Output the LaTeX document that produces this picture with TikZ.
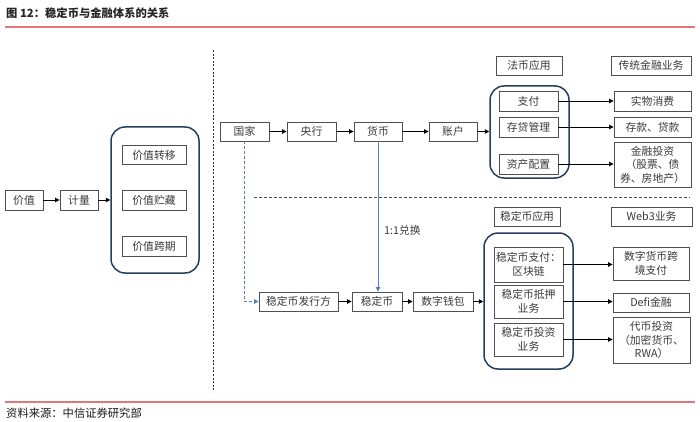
\documentclass[tikz,border=0pt]{standalone}
\usepackage{fontspec}
\setmainfont{Noto Sans CJK SC}
\usetikzlibrary{arrows.meta}
\definecolor{txt}{HTML}{3A3A3A}
\definecolor{bord}{HTML}{505050}
\definecolor{navy}{HTML}{243F60}
\definecolor{blu}{HTML}{4F81BD}
\definecolor{redl}{HTML}{E07878}
\tikzset{
  box/.style={draw=bord, line width=0.9pt, fill=white, text=txt, inner sep=0pt, align=center,
     font=\fontsize{10.8}{13.5}\selectfont},
  group/.style={draw=navy, line width=1.5pt, rounded corners=14pt, inner sep=0pt},
  arr/.style={draw=black, line width=0.9pt, -{Triangle[length=4.5pt,width=4.5pt]}},
  barr/.style={draw=blu, line width=0.9pt, -{Triangle[length=4.5pt,width=4.5pt]}},
  redline/.style={draw=redl, line width=1.3pt},
}
\begin{document}
\begin{tikzpicture}[x=1pt,y=-1pt]
\useasboundingbox (0,0) rectangle (700,422);
% title and footer
\node[anchor=west, text=black!85, font=\fontsize{11.3}{12}\selectfont\bfseries, inner sep=0pt] (title) at (6,13) {图 12：稳定币与金融体系的关系};
\coordinate (tl1) at (5,27); \coordinate (tl2) at (695,27);
\draw[redline] (tl1) -- (tl2);
\coordinate (fl1) at (5,402); \coordinate (fl2) at (695,402);
\draw[redline] (fl1) -- (fl2);
\node[anchor=west, text=black!90, font=\fontsize{11.3}{12}\selectfont, inner sep=0pt] (foot) at (6,413) {资料来源：中信证券研究部};
% separators
\coordinate (v1) at (213,50); \coordinate (v2) at (213,392);
\draw[black!80, line width=0.9pt, dash pattern=on 2pt off 1.6pt] (v1) -- (v2);
\coordinate (h1) at (254,197); \coordinate (h2) at (690,197);
\draw[black!70, line width=0.9pt, dash pattern=on 3pt off 2pt] (h1) -- (h2);
% left part
\node[box, minimum width=38, minimum height=20] (jz) at (24,200) {价值};
\node[box, minimum width=38, minimum height=20] (jl) at (79,200) {计量};
\node[group, minimum width=88, minimum height=146] (gL) at (155,200) {};
\node[box, minimum width=64, minimum height=19] (zy) at (154,155) {价值转移};
\node[box, minimum width=64, minimum height=20] (zc) at (154,200) {价值贮藏};
\node[box, minimum width=64, minimum height=20] (kq) at (154,246) {价值跨期};
\draw[arr] (jz) -- (jl);
\draw[arr] (jl) -- (gL);
% top row
\node[box, minimum width=49, minimum height=19] (gj) at (244.5,131.5) {国家};
\node[box, minimum width=49, minimum height=19] (yh) at (311.5,131.5) {央行};
\node[box, minimum width=48, minimum height=19] (hb) at (378,131.5) {货币};
\node[box, minimum width=48, minimum height=19] (zh) at (453,131.5) {账户};
\node[group, minimum width=79, minimum height=92] (gF) at (529.5,132) {};
\node[box, minimum width=59, minimum height=20] (zf) at (528.5,101) {支付};
\node[box, minimum width=59, minimum height=20] (cd) at (528.5,127) {存贷管理};
\node[box, minimum width=59, minimum height=20] (zp) at (528.5,164) {资产配置};
\node[box, minimum width=66, minimum height=19] (lf) at (529,65.5) {法币应用};
\node[box, minimum width=80, minimum height=19] (lc) at (651,65.5) {传统金融业务};
\node[box, minimum width=77, minimum height=20] (sw) at (652.5,101) {实物消费};
\node[box, minimum width=77, minimum height=20] (ck) at (652.5,127) {存款、贷款};
\node[box, minimum width=77, minimum height=45] (jr) at (652.5,164.5) {金融投资\\（股票、债\\券、房地产）};
\draw[arr] (gj) -- (yh);
\draw[arr] (yh) -- (hb);
\draw[arr] (hb) -- (zh);
\draw[arr] (zh) -- (zh -| gF.west);
\draw[arr] (zf.east) -- (zf.east -| sw.west);
\draw[arr] (cd.east) -- (cd.east -| ck.west);
\draw[arr] (zp.east) -- (zp.east -| jr.west);
% bottom row
\node[box, minimum width=79, minimum height=19] (fx) at (298.5,301.5) {稳定币发行方};
\node[box, minimum width=50, minimum height=19] (wd) at (377,301.5) {稳定币};
\node[box, minimum width=60, minimum height=19] (qb) at (443,301.5) {数字钱包};
\node[group, minimum width=89, minimum height=136] (gS) at (528.5,301) {};
\node[box, minimum width=69, minimum height=35] (s1) at (528.5,264.5) {稳定币支付：\\区块链};
\node[box, minimum width=69, minimum height=33] (s2) at (528.5,301.5) {稳定币抵押\\业务};
\node[box, minimum width=69, minimum height=33] (s3) at (528.5,339.5) {稳定币投资\\业务};
\node[box, minimum width=66, minimum height=19] (ls) at (527,216.5) {稳定币应用};
\node[box, minimum width=81, minimum height=19] (lw) at (651.5,216.5) {Web3业务};
\node[box, minimum width=76, minimum height=33] (r1) at (651,263.5) {数字货币跨\\境支付};
\node[box, minimum width=76, minimum height=19] (r2) at (651,302.5) {Defi金融};
\node[box, minimum width=77, minimum height=46] (r3) at (651.5,340) {代币投资\\（加密货币、\\RWA）};
\draw[arr] (fx) -- (wd);
\draw[arr] (wd) -- (qb);
\draw[arr] (qb) -- (qb -| gS.west);
\draw[arr] (s1.east) -- (s1.east -| r1.west);
\draw[arr] (s2.east) -- (s2.east -| r2.west);
\draw[arr] (s3.east) -- (s3.east -| r3.west);
% blue connectors
\draw[barr, dash pattern=on 3pt off 2pt] (gj.south) -- (gj.south |- fx.west) -- (fx.west);
\draw[barr] (hb.south) -- (hb.south |- wd.north);
\node[anchor=west, text=txt, font=\fontsize{10.8}{12}\selectfont, inner sep=0pt] (ratio) at (384,230) {1:1兑换};
\end{tikzpicture}
\end{document}
